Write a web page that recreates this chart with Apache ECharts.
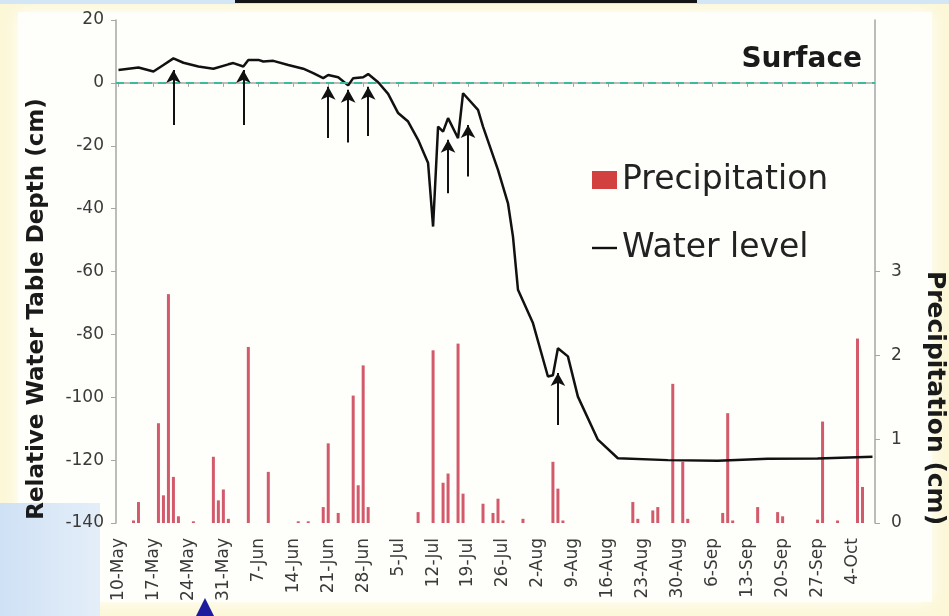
<!DOCTYPE html>
<html>
<head>
<meta charset="utf-8">
<script src="https://cdn.jsdelivr.net/npm/echarts@6/dist/echarts.min.js"></script>
<style>
html,body{margin:0;padding:0;background:#fcf7d6;}
#chart{width:949px;height:616px;}
</style>
</head>
<body>
<div id="chart"></div>
<script>
// ---- Data ----
const MONTHS = ['Jan','Feb','Mar','Apr','May','Jun','Jul','Aug','Sep','Oct','Nov','Dec'];
// daily categories, 10-May .. 8-Oct
const startDay = {month: 4, day: 10};
const dayCount = 152;
const categories = [];
for (let i = 0; i < dayCount; i++) {
  const d = new Date(Date.UTC(2009, startDay.month, startDay.day + i));
  categories.push(d.getUTCDate() + '-' + MONTHS[d.getUTCMonth()]);
}
const tickLabels = ['10-May','17-May','24-May','31-May','7-Jun','14-Jun','21-Jun','28-Jun','5-Jul','12-Jul','19-Jul','26-Jul','2-Aug','9-Aug','16-Aug','23-Aug','30-Aug','6-Sep','13-Sep','20-Sep','27-Sep','4-Oct'];
const depthTicks = [-140,-120,-100,-80,-60,-40,-20,0,20];
const precipTicks = [0,1,2,3];

// Water level (cm, relative to surface)
const waterDates = ['10-May','14-May','17-May','19-May','21-May','23-May','26-May','29-May','1-Jun','2-Jun','4-Jun','5-Jun','7-Jun','8-Jun','10-Jun','13-Jun','16-Jun','18-Jun','20-Jun','21-Jun','23-Jun','25-Jun','26-Jun','28-Jun','29-Jun','1-Jul','3-Jul','5-Jul','7-Jul','9-Jul','11-Jul','12-Jul','13-Jul','14-Jul','15-Jul','17-Jul','18-Jul','21-Jul','22-Jul','25-Jul','27-Jul','28-Jul','29-Jul','1-Aug','4-Aug','5-Aug','6-Aug','8-Aug','10-Aug','14-Aug','18-Aug','28-Aug','7-Sep','17-Sep','27-Sep','8-Oct'];
const waterLevel = [4.1,4.9,3.6,5.7,7.8,6.4,5.2,4.5,5.9,6.3,5.2,7.3,7.3,6.8,7.0,5.7,4.5,3.1,1.5,2.5,1.8,-0.8,1.5,1.8,2.8,0.2,-3.5,-9.6,-12.3,-18.1,-25.5,-45.7,-13.9,-15.5,-11.2,-17.6,-3.3,-8.6,-13.9,-27.7,-38.3,-48.9,-65.8,-76.4,-93.4,-93.0,-84.4,-87.0,-99.8,-113.5,-119.4,-120.0,-120.2,-119.6,-119.5,-118.9];

// Precipitation (cm)
const precipDates = ['13-May','14-May','18-May','19-May','20-May','21-May','22-May','25-May','29-May','30-May','31-May','1-Jun','5-Jun','9-Jun','15-Jun','17-Jun','20-Jun','21-Jun','23-Jun','26-Jun','27-Jun','28-Jun','29-Jun','9-Jul','12-Jul','14-Jul','15-Jul','17-Jul','18-Jul','22-Jul','24-Jul','25-Jul','26-Jul','30-Jul','5-Aug','6-Aug','7-Aug','21-Aug','22-Aug','25-Aug','26-Aug','29-Aug','31-Aug','1-Sep','8-Sep','9-Sep','10-Sep','15-Sep','19-Sep','20-Sep','27-Sep','28-Sep','1-Oct','5-Oct','6-Oct'];
const precipValues = [0.03,0.25,1.19,0.33,2.73,0.55,0.08,0.02,0.79,0.27,0.40,0.05,2.10,0.61,0.02,0.02,0.19,0.95,0.12,1.52,0.45,1.88,0.19,0.13,2.06,0.48,0.59,2.14,0.35,0.23,0.12,0.29,0.03,0.05,0.73,0.41,0.03,0.25,0.05,0.15,0.19,1.66,0.73,0.05,0.12,1.31,0.03,0.19,0.13,0.08,0.04,1.21,0.03,2.20,0.43];

// Arrows marking rises of the water table
const arrowDates = ['21-May','4-Jun','21-Jun','25-Jun','29-Jun','15-Jul','19-Jul','6-Aug'];
const arrowFrom = [-13.4,-13.4,-17.5,-19.0,-16.9,-35.1,-29.8,-108.8];
const arrowTo = [4.1,4.1,-1.2,-2.2,-1.2,-18.1,-13.4,-92.3];

// ---- Chart ----
const FONT = 'DejaVu Sans';
const chart = echarts.init(document.getElementById('chart'), null, {renderer: 'canvas'});

const waterData = waterDates.map((d, i) => [d, waterLevel[i]]);
const precipData = precipDates.map((d, i) => [d, precipValues[i]]);
const arrowStyle = {color: '#111', width: 2, type: 'solid'};
const arrowLines = arrowDates.map((d, i) => [
  {coord: [d, arrowFrom[i]], symbol: 'none', lineStyle: arrowStyle},
  {coord: [d, arrowTo[i]], symbol: 'arrow', symbolSize: [11, 13]}
]);

const option = {
  animation: false,
  backgroundColor: '#fcf7d6',
  grid: {left: 116, right: 74, top: 20, bottom: 93, containLabel: false, outerBoundsMode: 'none'},
  legend: {
    orient: 'vertical', left: 587, top: 157,
    itemWidth: 25, itemHeight: 18, itemGap: 32,
    selectedMode: false,
    textStyle: {fontFamily: FONT, fontSize: 33, color: '#222', lineHeight: 36},
    data: [
      {name: 'Precipitation', icon: 'rect', itemStyle: {color: '#d2403f'}},
      {name: 'Water level', icon: 'path://M0,0 M0,7.8 L25,7.8 L25,10.2 L0,10.2 Z M25,18',
        itemStyle: {color: '#111'}}
    ]
  },
  xAxis: {
    type: 'category',
    data: categories,
    boundaryGap: true,
    axisLine: {lineStyle: {color: '#a6a6a6', width: 1.5}},
    axisTick: {show: true, alignWithLabel: true, length: 4, lineStyle: {color: '#a6a6a6'},
      interval: (idx, val) => tickLabels.includes(val)},
    axisLabel: {
      rotate: 90, margin: 15,
      interval: (idx, val) => tickLabels.includes(val),
      fontFamily: FONT, fontSize: 17, color: '#3a3a3a'
    },
    splitLine: {show: false}
  },
  yAxis: [
    {
      type: 'value', min: -140, max: 20, interval: 20,
      axisLine: {show: true, lineStyle: {color: '#a6a6a6', width: 1.5}},
      axisTick: {show: true, length: 5, lineStyle: {color: '#a6a6a6'}},
      axisLabel: {fontFamily: FONT, fontSize: 17, color: '#3a3a3a', margin: 12,
        customValues: depthTicks},
      splitLine: {show: false}
    },
    {
      type: 'value', min: 0, max: 6, interval: 1, position: 'right',
      axisLine: {show: true, lineStyle: {color: '#a6a6a6', width: 1.5}},
      axisTick: {show: true, length: 5, lineStyle: {color: '#a6a6a6'}, customValues: precipTicks},
      axisLabel: {fontFamily: FONT, fontSize: 17, color: '#3a3a3a', margin: 16,
        customValues: precipTicks},
      splitLine: {show: false}
    }
  ],
  graphic: [
    {type: 'rect', z: -10, shape: {x: 18, y: 12, width: 914, height: 590},
      style: {fill: '#fefefb', shadowBlur: 18, shadowColor: 'rgba(255,255,255,1)'}},
    {type: 'rect', z: -5, shape: {x: 0, y: 0, width: 949, height: 4}, style: {fill: '#d3e6f6'}},
    {type: 'rect', z: -4, shape: {x: 235, y: 0, width: 462, height: 3}, style: {fill: '#151515'}},
    {type: 'rect', z: -5, shape: {x: 0, y: 503, width: 100, height: 113},
      style: {fill: {type: 'linear', x: 0, y: 0, x2: 1, y2: 0,
        colorStops: [{offset: 0, color: '#cfe1f5'}, {offset: 1, color: '#e4eef9'}]}}},
    {type: 'polygon', z: 5, shape: {points: [[196, 616], [205, 598], [214, 616]]}, style: {fill: '#1c1c9c'}},
    {type: 'text', z: 100, x: 37, y: 309, rotation: Math.PI / 2,
      style: {text: 'Relative Water Table Depth (cm)', fontFamily: FONT, fontWeight: 'bold',
        fontSize: 23, fill: '#1a1a1a', align: 'center', verticalAlign: 'middle'}},
    {type: 'text', z: 100, x: 934, y: 398, rotation: -Math.PI / 2,
      style: {text: 'Precipitation (cm)', fontFamily: FONT, fontWeight: 'bold',
        fontSize: 25, fill: '#1a1a1a', align: 'center', verticalAlign: 'middle'}},
    {type: 'text', z: 100, x: 862, y: 60,
      style: {text: 'Surface', fontFamily: FONT, fontWeight: 'bold',
        fontSize: 28, fill: '#1a1a1a', align: 'right', verticalAlign: 'middle'}}
  ],
  series: [
    {
      name: 'Precipitation', type: 'bar', yAxisIndex: 1,
      data: precipData, barWidth: 3,
      itemStyle: {color: '#d25a6b'}, silent: true
    },
    {
      name: 'Water level', type: 'line', yAxisIndex: 0,
      data: waterData, symbol: 'none', smooth: false,
      lineStyle: {color: '#111', width: 2.5}, itemStyle: {color: '#111'},
      silent: true, z: 3,
      markLine: {
        silent: true, symbol: ['none', 'none'], label: {show: false},
        lineStyle: arrowStyle,
        data: [
          {yAxis: 0, lineStyle: {color: '#3dba9c', width: 2, type: [8, 6]}}
        ].concat(arrowLines)
      }
    }
  ]
};
chart.setOption(option);
</script>
</body>
</html>
